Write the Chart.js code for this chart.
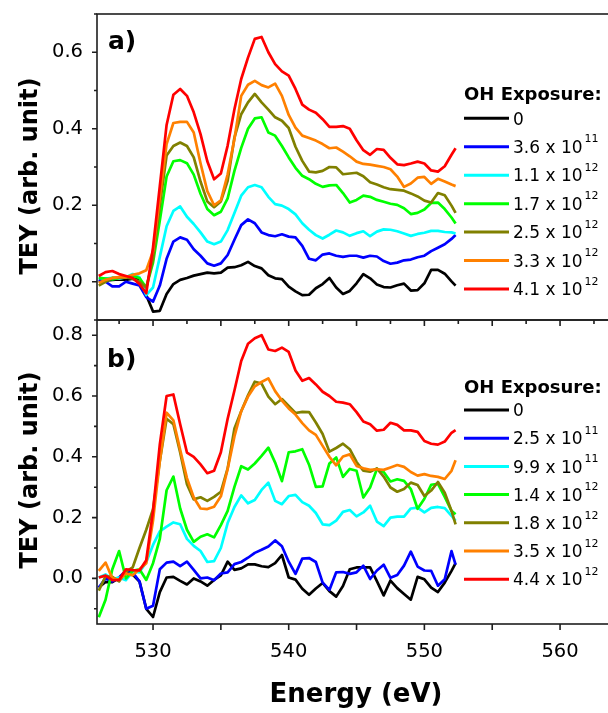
<!DOCTYPE html>
<html>
<head>
<meta charset="utf-8">
<script src="https://cdn.jsdelivr.net/npm/chart.js"></script>
<style>
  html, body { margin: 0; padding: 0; background: #fff; }
  #wrap { position: relative; width: 608px; height: 713px; overflow: hidden; background: #fff; }
  canvas { position: absolute; left: 0; }
  #chartA { top: 0; }
  #chartB { top: 300px; }
</style>
</head>
<body>
<div id="wrap">
  <canvas id="chartA" width="625" height="332"></canvas>
  <canvas id="chartB" width="625" height="413"></canvas>
</div>
<script>
// Photon energy grid (eV) shared by every spectrum
const energy = [526, 526.5, 527, 527.5, 528, 528.5, 529, 529.5, 530, 530.5, 531, 531.5, 532, 532.5,
  533, 533.5, 534, 534.5, 535, 535.5, 536, 536.5, 537, 537.5, 538, 538.5, 539, 539.5, 540, 540.5,
  541, 541.5, 542, 542.5, 543, 543.5, 544, 544.5, 545, 545.5, 546, 546.5, 547, 547.5, 548, 548.5,
  549, 549.5, 550, 550.5, 551, 551.5, 552, 552.3];

// OH exposure labels (molec cm^-3 s), "^" marks the exponent
const exposureA = ['0', '3.6 x 10^11', '1.1 x 10^12', '1.7 x 10^12', '2.5 x 10^12', '3.3 x 10^12', '4.1 x 10^12'];
const exposureB = ['0', '2.5 x 10^11', '9.9 x 10^11', '1.4 x 10^12', '1.8 x 10^12', '3.5 x 10^12', '4.4 x 10^12'];
const lineColors = ['#000000', '#0000ff', '#00ffff', '#00ff00', '#808000', '#ff8000', '#ff0000'];

// Panel a) TEY spectra
const teyA0 = [0.0, 0.003, 0.005, 0.006, 0.005, 0.008, 0.005, -0.035, -0.078, -0.076, -0.032, -0.006, 0.005, 0.01,
  0.016, 0.02, 0.024, 0.022, 0.024, 0.037, 0.038, 0.043, 0.052, 0.041, 0.035, 0.017, 0.009, 0.007, -0.013, -0.025,
  -0.035, -0.034, -0.017, -0.006, 0.01, -0.015, -0.032, -0.024, -0.004, 0.02, 0.009, -0.007, -0.014, -0.015, -0.009,
  -0.005, -0.023, -0.022, -0.004, 0.031, 0.031, 0.021, 0.001, -0.01];
const teyA1 = [0.005, 0.0, -0.012, -0.012, 0.0, -0.005, -0.01, -0.04, -0.052, -0.01, 0.06, 0.105, 0.116, 0.11,
  0.085, 0.068, 0.048, 0.042, 0.048, 0.07, 0.11, 0.148, 0.163, 0.153, 0.129, 0.122, 0.119, 0.124, 0.118, 0.116,
  0.094, 0.06, 0.056, 0.071, 0.074, 0.068, 0.065, 0.068, 0.068, 0.063, 0.068, 0.066, 0.054, 0.047, 0.05, 0.056,
  0.058, 0.064, 0.068, 0.08, 0.089, 0.098, 0.112, 0.122];
const teyA2 = [0.01, 0.008, 0.01, 0.008, 0.012, 0.02, 0.012, -0.035, -0.015, 0.065, 0.145, 0.185, 0.197, 0.17,
  0.151, 0.129, 0.105, 0.098, 0.105, 0.135, 0.18, 0.225, 0.247, 0.253, 0.247, 0.222, 0.203, 0.199, 0.19, 0.176,
  0.153, 0.136, 0.122, 0.113, 0.123, 0.134, 0.129, 0.12, 0.127, 0.132, 0.119, 0.131, 0.137, 0.136, 0.132, 0.126,
  0.12, 0.125, 0.128, 0.133, 0.133, 0.13, 0.129, 0.126];
const teyA3 = [0.01, 0.008, 0.006, 0.01, 0.012, 0.015, 0.01, -0.015, 0.05, 0.16, 0.275, 0.315, 0.318, 0.31,
  0.28, 0.23, 0.19, 0.174, 0.183, 0.218, 0.29, 0.35, 0.40, 0.427, 0.43, 0.39, 0.382, 0.355, 0.325, 0.298,
  0.277, 0.268, 0.256, 0.248, 0.252, 0.253, 0.232, 0.207, 0.214, 0.225, 0.222, 0.214, 0.209, 0.204, 0.201, 0.192,
  0.177, 0.18, 0.189, 0.206, 0.207, 0.19, 0.168, 0.152];
const teyA4 = [-0.01, 0.0, 0.01, 0.01, 0.012, 0.008, 0.0, -0.015, 0.06, 0.2, 0.33, 0.355, 0.364, 0.355,
  0.325, 0.262, 0.21, 0.195, 0.21, 0.264, 0.377, 0.438, 0.469, 0.491, 0.469, 0.45, 0.43, 0.421, 0.402, 0.353,
  0.316, 0.288, 0.286, 0.29, 0.30, 0.299, 0.281, 0.283, 0.285, 0.276, 0.26, 0.254, 0.247, 0.242, 0.24, 0.238,
  0.231, 0.223, 0.212, 0.207, 0.232, 0.226, 0.199, 0.18];
const teyA5 = [-0.003, 0.005, 0.01, 0.012, 0.012, 0.018, 0.022, 0.03, 0.08, 0.22, 0.36, 0.415, 0.418, 0.418,
  0.39, 0.31, 0.237, 0.2, 0.213, 0.281, 0.373, 0.486, 0.515, 0.525, 0.514, 0.508, 0.518, 0.486, 0.436, 0.403,
  0.382, 0.376, 0.369, 0.36, 0.349, 0.351, 0.34, 0.328, 0.314, 0.308, 0.306, 0.303, 0.3, 0.294, 0.275, 0.248,
  0.257, 0.272, 0.274, 0.256, 0.269, 0.262, 0.254, 0.25];
const teyA6 = [0.015, 0.025, 0.028, 0.02, 0.015, 0.01, -0.006, -0.03, 0.09, 0.25, 0.41, 0.489, 0.504, 0.486,
  0.443, 0.386, 0.315, 0.268, 0.283, 0.356, 0.451, 0.53, 0.586, 0.635, 0.64, 0.6, 0.569, 0.55, 0.539, 0.504,
  0.463, 0.45, 0.442, 0.425, 0.405, 0.405, 0.407, 0.4, 0.37, 0.344, 0.332, 0.347, 0.345, 0.324, 0.307, 0.305,
  0.309, 0.314, 0.309, 0.291, 0.288, 0.302, 0.332, 0.349];

// Panel b) TEY spectra
const teyB0 = [-0.03, -0.012, -0.012, 0.002, 0.02, 0.013, -0.01, -0.1, -0.127, -0.045, 0.003, 0.005, -0.008, -0.02,
  0.0, -0.01, -0.024, -0.005, 0.01, 0.055, 0.028, 0.033, 0.046, 0.046, 0.04, 0.037, 0.05, 0.077, 0.003, -0.004,
  -0.034, -0.054, -0.033, -0.015, -0.042, -0.06, -0.025, 0.03, 0.036, 0.036, 0.036, -0.009, -0.056, -0.007, -0.032,
  -0.051, -0.07, 0.005, -0.003, -0.03, -0.045, -0.014, 0.025, 0.05];
const teyB1 = [-0.03, 0.0, -0.01, 0.003, 0.025, 0.02, -0.01, -0.1, -0.09, 0.03, 0.052, 0.055, 0.04, 0.055,
  0.028, 0.0, 0.003, -0.006, 0.016, 0.02, 0.047, 0.054, 0.068, 0.084, 0.094, 0.105, 0.125, 0.106, 0.055, 0.015,
  0.065, 0.067, 0.054, -0.014, -0.038, 0.02, 0.021, 0.015, 0.02, 0.042, -0.002, 0.026, 0.045, 0.002, 0.011,
  0.042, 0.088, 0.039, 0.026, 0.025, -0.024, -0.003, 0.09, 0.045];
const teyB2 = [0.003, 0.013, -0.002, 0.003, -0.006, 0.022, 0.02, 0.053, 0.11, 0.155, 0.17, 0.184, 0.178, 0.13,
  0.107, 0.09, 0.054, 0.057, 0.1, 0.182, 0.235, 0.273, 0.247, 0.258, 0.291, 0.315, 0.255, 0.244, 0.271, 0.275,
  0.251, 0.239, 0.215, 0.178, 0.175, 0.19, 0.219, 0.225, 0.204, 0.217, 0.239, 0.187, 0.172, 0.2, 0.203, 0.203,
  0.23, 0.233, 0.217, 0.232, 0.235, 0.231, 0.206, 0.189];
const teyB3 = [-0.128, -0.07, 0.03, 0.09, 0.0, 0.025, 0.03, -0.005, 0.05, 0.13, 0.29, 0.335, 0.23, 0.16,
  0.12, 0.137, 0.145, 0.135, 0.175, 0.222, 0.301, 0.369, 0.358, 0.378, 0.403, 0.43, 0.381, 0.32, 0.415, 0.418,
  0.425, 0.374, 0.301, 0.303, 0.378, 0.398, 0.334, 0.36, 0.354, 0.266, 0.299, 0.36, 0.35, 0.319, 0.326, 0.321,
  0.294, 0.229, 0.262, 0.308, 0.311, 0.268, 0.222, 0.211];
const teyB4 = [-0.04, 0.007, 0.005, -0.01, 0.022, 0.036, 0.1, 0.16, 0.228, 0.386, 0.525, 0.507, 0.414, 0.31,
  0.26, 0.267, 0.255, 0.268, 0.285, 0.362, 0.493, 0.55, 0.602, 0.647, 0.641, 0.598, 0.573, 0.59, 0.567, 0.544,
  0.548, 0.547, 0.513, 0.475, 0.417, 0.429, 0.443, 0.425, 0.383, 0.354, 0.351, 0.362, 0.335, 0.299, 0.285, 0.294,
  0.315, 0.307, 0.271, 0.289, 0.317, 0.282, 0.222, 0.178];
const teyB5 = [0.025, 0.052, 0.0, -0.005, 0.017, 0.01, 0.03, 0.05, 0.19, 0.386, 0.545, 0.52, 0.423, 0.33,
  0.266, 0.23, 0.228, 0.236, 0.27, 0.36, 0.467, 0.55, 0.598, 0.632, 0.646, 0.658, 0.616, 0.585, 0.559, 0.539,
  0.511, 0.487, 0.472, 0.436, 0.4, 0.372, 0.401, 0.408, 0.37, 0.362, 0.357, 0.359, 0.357, 0.365, 0.373, 0.367,
  0.35, 0.338, 0.343, 0.337, 0.334, 0.327, 0.354, 0.389];
const teyB6 = [0.003, 0.009, -0.006, -0.005, 0.03, 0.027, 0.026, 0.06, 0.222, 0.441, 0.6, 0.605, 0.507, 0.414,
  0.4, 0.375, 0.346, 0.354, 0.415, 0.525, 0.618, 0.715, 0.772, 0.79, 0.8, 0.753, 0.748, 0.759, 0.745, 0.684,
  0.65, 0.659, 0.638, 0.614, 0.6, 0.581, 0.578, 0.573, 0.547, 0.516, 0.507, 0.486, 0.489, 0.512, 0.505, 0.487,
  0.487, 0.482, 0.452, 0.443, 0.44, 0.45, 0.479, 0.488];

// Axis ticks
const xTicksA = [527.5, 530, 532.5, 535, 537.5, 540, 542.5, 545, 547.5, 550, 552.5, 555, 557.5, 560, 562.5];
const xTicksB = [530, 535, 540, 545, 550, 555, 560];
const yTicksA = [-0.1, 0.0, 0.1, 0.2, 0.3, 0.4, 0.5, 0.6, 0.7];
const yTicksB = [-0.1, 0.0, 0.1, 0.2, 0.3, 0.4, 0.5, 0.6, 0.7, 0.8];

const seriesA = [teyA0, teyA1, teyA2, teyA3, teyA4, teyA5, teyA6];
const seriesB = [teyB0, teyB1, teyB2, teyB3, teyB4, teyB5, teyB6];

const FONT = '"DejaVu Sans", "Liberation Sans", sans-serif';
Chart.defaults.font.family = FONT;
Chart.defaults.color = '#000';

// Box around the plot area plus outward tick marks
const framePlugin = {
  id: 'frame',
  afterDatasetsDraw(chart) {
    const { ctx, chartArea: a, scales: { x, y } } = chart;
    ctx.save();
    ctx.strokeStyle = '#1e1e1e';
    ctx.lineWidth = 1.6;
    ctx.strokeRect(a.left, a.top, a.right - a.left, a.bottom - a.top);
    ctx.beginPath();
    x.ticks.forEach(t => {
      const px = x.getPixelForValue(t.value);
      const len = (t.value % 5 === 0) ? 6 : 4;
      ctx.moveTo(px, a.bottom);
      ctx.lineTo(px, a.bottom + len);
    });
    y.ticks.forEach(t => {
      const py = y.getPixelForValue(t.value);
      const len = t.label ? 5 : 3;
      ctx.moveTo(a.left, py);
      ctx.lineTo(a.left - len, py);
    });
    ctx.stroke();
    ctx.restore();
  }
};

function drawExposure(ctx, text, x, baseline) {
  const parts = text.split('^');
  ctx.font = '17px ' + FONT;
  ctx.fillText(parts[0], x, baseline);
  if (parts[1]) {
    const w = ctx.measureText(parts[0]).width;
    ctx.font = '11px ' + FONT;
    ctx.fillText(parts[1], x + w + 2, baseline - 10.5);
  }
}

// Legend with superscript exponents, panel tag and rotated y title
const annotatePlugin = {
  id: 'annotate',
  afterDraw(chart, args, o) {
    const ctx = chart.ctx;
    ctx.save();
    ctx.fillStyle = '#000';
    ctx.textAlign = 'left';
    ctx.textBaseline = 'alphabetic';
    ctx.font = 'bold 18px ' + FONT;
    ctx.fillText(o.title, o.x, o.titleY + 6.5);
    chart.data.datasets.forEach((ds, i) => {
      const y = o.y0 + i * o.step;
      ctx.strokeStyle = ds.borderColor;
      ctx.lineWidth = 3;
      ctx.beginPath();
      ctx.moveTo(o.x, y);
      ctx.lineTo(o.x + 45, y);
      ctx.stroke();
      drawExposure(ctx, ds.label, o.x + 49, y + 6.2);
    });
    ctx.font = 'bold 25px ' + FONT;
    ctx.fillText(o.tag, o.tagX, o.tagY);
    ctx.translate(o.yTitleX, o.yTitleY);
    ctx.rotate(-Math.PI / 2);
    ctx.textAlign = 'center';
    ctx.textBaseline = 'middle';
    ctx.font = 'bold 24px ' + FONT;
    ctx.fillText(o.yTitle, 0, 0);
    ctx.restore();
  }
};

function buildChart(id, series, labels, cfg) {
  const datasets = series.map((vals, i) => ({
    label: labels[i],
    data: energy.map((e, k) => ({ x: e, y: vals[k] })),
    borderColor: lineColors[i],
    borderWidth: 2.7,
    pointRadius: 0,
    tension: 0,
    borderJoinStyle: 'round',
    order: series.length - i
  }));
  return new Chart(document.getElementById(id), {
    type: 'line',
    data: { datasets },
    plugins: [framePlugin, annotatePlugin],
    options: {
      responsive: false,
      animation: false,
      devicePixelRatio: 1,
      layout: { padding: { left: 0, right: 10, top: cfg.padTop, bottom: 0 } },
      plugins: {
        legend: { display: false },
        tooltip: { enabled: false },
        annotate: cfg.annotate
      },
      scales: {
        x: {
          type: 'linear',
          min: 525.87,
          max: 564.05,
          grid: { display: false, drawTicks: false },
          border: { display: false },
          afterBuildTicks: s => { s.ticks = cfg.xTicks.map(v => ({ value: v })); },
          afterFit: s => {
            s.height = cfg.xHeight;
            s.paddingLeft = 0; s.paddingRight = 0; s.paddingTop = 0; s.paddingBottom = 0;
          },
          ticks: {
            display: cfg.xLabels,
            autoSkip: false,
            maxRotation: 0,
            padding: 16,
            font: { size: 19.5 },
            callback: v => (v % 10 === 0 ? String(v) : '')
          },
          title: {
            display: cfg.xLabels,
            text: 'Energy (eV)',
            font: { size: 26, weight: 'bold' },
            padding: { top: 0, bottom: 2 }
          }
        },
        y: {
          min: cfg.yMin,
          max: cfg.yMax,
          grid: { display: false, drawTicks: false },
          border: { display: false },
          afterBuildTicks: s => { s.ticks = cfg.yTicks.map(v => ({ value: v })); },
          afterFit: s => {
            s.width = 97;
            s.paddingLeft = 0; s.paddingRight = 0; s.paddingTop = 0; s.paddingBottom = 0;
          },
          ticks: {
            autoSkip: false,
            padding: 14,
            font: { size: 19.5 },
            callback: v => (v > -1e-9 && Math.round(v * 10) % 2 === 0 ? v.toFixed(1) : '')
          }
        }
      }
    }
  });
}

buildChart('chartA', seriesA, exposureA, {
  padTop: 14, xHeight: 12, xLabels: false, xTicks: xTicksA,
  yMin: -0.1, yMax: 0.7, yTicks: yTicksA,
  annotate: {
    title: 'OH Exposure:', x: 464, titleY: 93.5, y0: 118.3, step: 28.45,
    tag: 'a)', tagX: 108, tagY: 48.5,
    yTitle: 'TEY (arb. unit)', yTitleX: 31, yTitleY: 176
  }
});

buildChart('chartB', seriesB, exposureB, {
  padTop: 20, xHeight: 89, xLabels: true, xTicks: xTicksB,
  yMin: -0.15, yMax: 0.85, yTicks: yTicksB,
  annotate: {
    title: 'OH Exposure:', x: 464, titleY: 86, y0: 110, step: 28.2,
    tag: 'b)', tagX: 107, tagY: 66.7,
    yTitle: 'TEY (arb. unit)', yTitleX: 31, yTitleY: 170
  }
});
</script>
</body>
</html>
